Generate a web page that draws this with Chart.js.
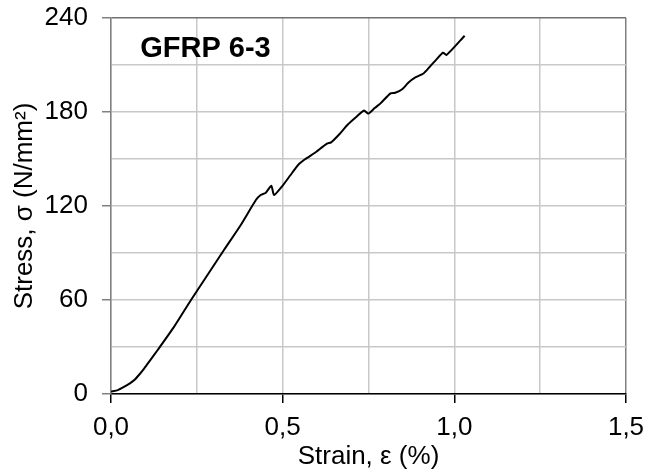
<!DOCTYPE html>
<html>
<head>
<meta charset="utf-8">
<script src="https://cdn.jsdelivr.net/npm/chart.js@4"></script>
<style>
  html, body { margin: 0; padding: 0; background: #fff; }
  #wrap { width: 648px; height: 475px; }
</style>
</head>
<body>
<div id="wrap"><canvas id="myChart" width="648" height="475"></canvas></div>
<script>
'use strict';

// 読み取った値 (ひずみ % / 応力 N/mm2)
var strain = [0, 0.02, 0.039, 0.055, 0.068, 0.082, 0.097, 0.115, 0.136, 0.184, 0.233, 0.281, 0.329, 0.378, 0.422, 0.436, 0.451, 0.467, 0.475, 0.500, 0.523, 0.545, 0.565, 0.593, 0.629, 0.641, 0.665, 0.689, 0.715, 0.737, 0.749, 0.768, 0.785, 0.814, 0.828, 0.848, 0.865, 0.882, 0.911, 0.929, 0.948, 0.967, 0.977, 1.030];
var stress = [1.5, 2.5, 4.7, 6.8, 8.9, 12.3, 16.4, 21.8, 28.1, 43, 60, 76, 91.9, 107.9, 123.8, 127, 128.5, 132.9, 127, 133, 139.8, 146.2, 149.8, 153.8, 159.8, 160.6, 165.8, 171.9, 177, 181, 179, 182.5, 185.5, 191.9, 192.3, 194.5, 198.5, 201.5, 204.7, 209, 213.6, 217.9, 216.4, 228.7];

var xTicks = [0, 0.5, 1.0, 1.5];
var yTicks = [0, 60, 120, 180, 240];
var chartLabel = "GFRP 6-3";

var points = strain.map(function (s, i) {
  return { x: s, y: stress[i] };
});

function isMajor(list, v) {
  return list.some(function (t) { return Math.abs(t - v) < 1e-6; });
}

var fontName = "'Liberation Sans', Arial, sans-serif";

// グラフ内のラベル
var labelPlugin = {
  id: "innerLabel",
  afterDraw: function (chart) {
    var c = chart.ctx;
    c.save();
    c.font = "bold 29px " + fontName;
    c.fillStyle = "#000";
    c.textBaseline = "middle";
    c.fillText(chartLabel, chart.scales.x.getPixelForValue(0.085), chart.scales.y.getPixelForValue(220));
    c.restore();
  }
};

var ctx = document.getElementById("myChart").getContext("2d");

var myChart = new Chart(ctx, {
  type: "scatter",
  data: {
    datasets: [
      {
        data: points,
        showLine: true,
        borderColor: "#000",
        borderWidth: 2,
        pointRadius: 0,
        tension: 0.2,
      },
    ],
  },
  options: {
    responsive: false,
    animation: false,
    layout: { padding: { top: 18, right: 22, left: 0, bottom: 0 } },
    plugins: {
      legend: { display: false },
      tooltip: { enabled: false },
    },
    scales: {
      x: {
        type: "linear",
        min: 0,
        max: 1.5,
        afterFit: function (scale) {
          scale.height = 81;
          scale.paddingLeft = 0;
          scale.paddingRight = 0;
        },
        ticks: {
          stepSize: 0.25,
          autoSkip: false,
          maxRotation: 0,
          padding: 9,
          color: "#000",
          font: { family: fontName, size: 26 },
          callback: function (v) {
            return isMajor(xTicks, v) ? v.toFixed(1).replace(".", ",") : "";
          },
        },
        grid: {
          color: function (c) {
            return c.tick && Math.abs(c.tick.value - 1.5) < 1e-6 ? "#808080" : "#c8c8c8";
          },
          tickColor: function (c) {
            return c.tick && isMajor(xTicks, c.tick.value) ? "#000" : "rgba(0,0,0,0)";
          },
          tickLength: 9,
          lineWidth: 1.5,
        },
        border: { color: "#000", width: 1.5 },
        title: {
          display: true,
          text: "Strain, ε (%)",
          color: "#000",
          font: { family: fontName, size: 26 },
          padding: { top: 0, bottom: 3 },
        },
      },
      y: {
        min: 0,
        max: 240,
        afterFit: function (scale) {
          scale.width = 111;
          scale.paddingTop = 0;
          scale.paddingBottom = 0;
        },
        ticks: {
          stepSize: 30,
          autoSkip: false,
          padding: 14,
          color: "#000",
          font: { family: fontName, size: 26 },
          callback: function (v) {
            return isMajor(yTicks, v) ? String(v) : "";
          },
        },
        grid: {
          color: function (c) {
            return c.tick && Math.abs(c.tick.value - 240) < 1e-6 ? "#707070" : "#c8c8c8";
          },
          tickColor: function (c) {
            return c.tick && isMajor(yTicks, c.tick.value) ? "#808080" : "rgba(0,0,0,0)";
          },
          tickLength: 9,
          lineWidth: 1.5,
        },
        border: { color: "#808080", width: 1.5 },
        title: {
          display: true,
          text: "Stress, σ (N/mm²)",
          color: "#000",
          font: { family: fontName, size: 26 },
          padding: { top: 9, bottom: 0 },
        },
      },
    },
  },
  plugins: [labelPlugin],
});
</script>
</body>
</html>
